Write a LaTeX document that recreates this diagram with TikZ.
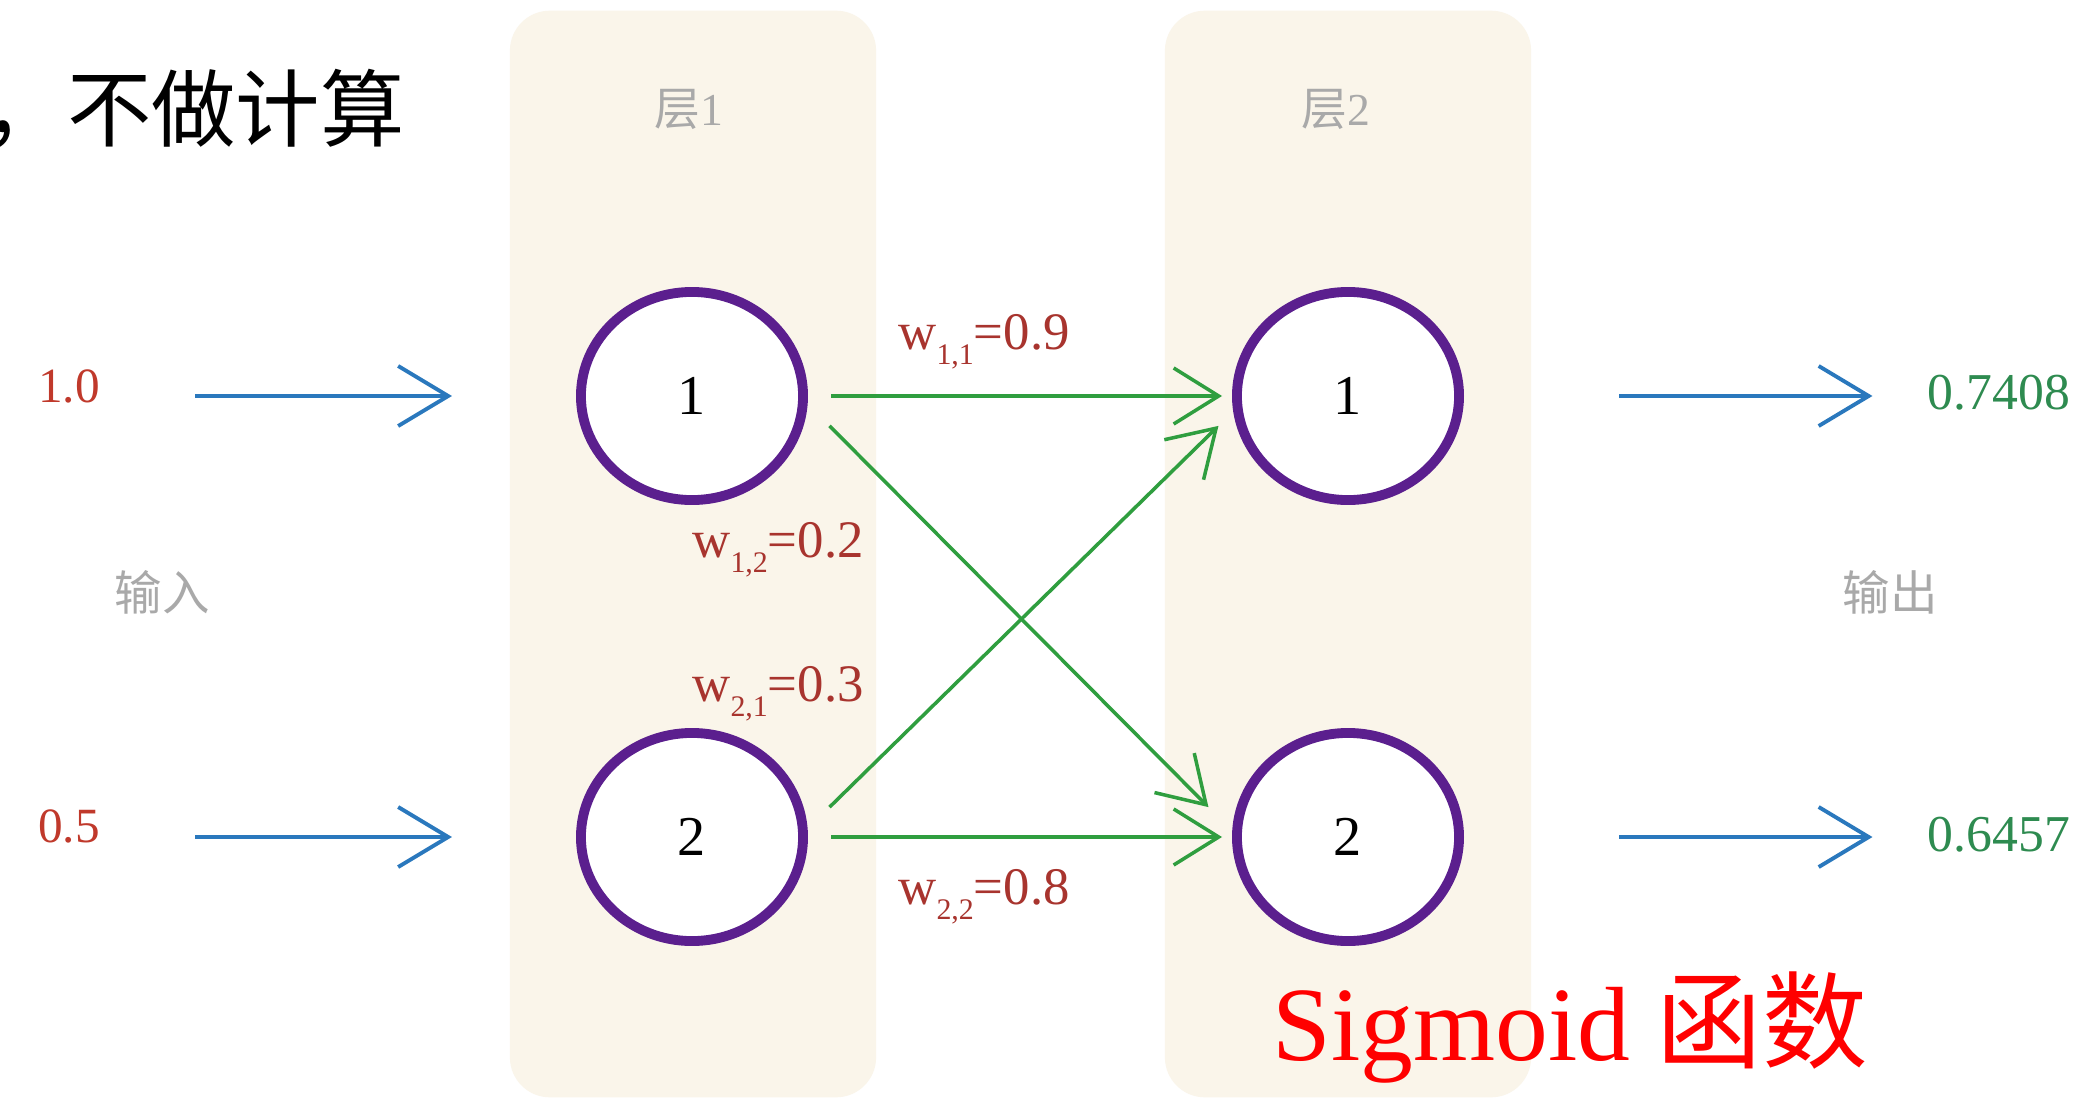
\documentclass[tikz,border=0pt]{standalone}
\usepackage{fontspec}
\setmainfont{Liberation Serif}
\newfontfamily\cjk{Noto Sans CJK SC}
\usetikzlibrary{positioning, arrows.meta, shapes.geometric}
\definecolor{panelbg}{HTML}{FAF5EA}
\definecolor{ringcol}{HTML}{5B1F8E}
\definecolor{edgecol}{HTML}{2F9E3F}
\definecolor{arrcol}{HTML}{2A78BD}
\definecolor{incol}{HTML}{C0392B}
\definecolor{wcol}{HTML}{A8342E}
\definecolor{outcol}{HTML}{2E8B50}
\definecolor{softgray}{HTML}{A9A9A9}
\newcommand{\wlab}[2]{w\raisebox{-0.6ex}{\fontsize{8.5}{9}\selectfont #1}=#2}

\begin{document}
\begin{tikzpicture}[x=0.01cm, y=-0.01cm,
	panel/.style={fill=panelbg, rounded corners=4mm, minimum width=3.66cm, minimum height=10.86cm, inner sep=0pt},
	neuron/.style={ellipse, draw=ringcol, line width=2.8pt, fill=white, minimum width=2.22cm, minimum height=2.08cm, font=\fontsize{16}{18}\selectfont},
	synapse/.style={draw=edgecol, line width=1pt, -{Straight Barb[length=4.5mm, width=5.6mm]}},
	signal/.style={draw=arrcol, line width=1.1pt, -{Straight Barb[length=5mm, width=6mm]}},
	soft/.style={text=softgray, font=\fontsize{13}{16}\selectfont},
	inlab/.style={text=incol, font=\fontsize{14}{17}\selectfont},
	outlab/.style={text=outcol, font=\fontsize{14.7}{17}\selectfont},
	wlab/.style={text=wcol, font=\fontsize{15}{18}\selectfont}]
	\fill[white] (0,0) rectangle (2078,1100);
	\useasboundingbox (0,0) rectangle (2078,1100);
	\node[panel] (p1) at (693,554) {};
	\node[panel] (p2) at (1348,554) {};
	\node[soft] (t1) at (689,109) {{\cjk 层}1};
	\node[soft] (t2) at (1336,109) {{\cjk 层}2};
	\node[neuron] (n11) at (692,396) {1};
	\node[neuron] (n12) at (692,837) {2};
	\node[neuron] (n21) at (1348,396) {1};
	\node[neuron] (n22) at (1348,837) {2};
	\node[inlab] (x1) at (69,386) {1.0};
	\node[inlab] (x2) at (69,826) {0.5};
	\node[soft, font=\cjk\fontsize{13.5}{16}\selectfont] (xin) at (162,592) {输入};
	\node[soft, font=\cjk\fontsize{13.5}{16}\selectfont] (yout) at (1890,592) {输出};
	\node[outlab] (y1) at (1999,393) {0.7408};
	\node[outlab] (y2) at (1999,835) {0.6457};
	\node[wlab] (w11) at (984,342) {\wlab{1,1}{0.9}};
	\node[wlab] (w12) at (778,550) {\wlab{1,2}{0.2}};
	\node[wlab] (w21) at (778,694) {\wlab{2,1}{0.3}};
	\node[wlab] (w22) at (984,897) {\wlab{2,2}{0.8}};
	\draw[signal, shorten <=8.3mm, shorten >=12.4mm] (x1.east |- n11.west) -- (n11.west);
	\draw[signal, shorten <=8.3mm, shorten >=12.4mm] (x2.east |- n12.west) -- (n12.west);
	\draw[signal, shorten <=15.5mm, shorten >=4.3mm] (n21.east) -- (n21.east -| y1.west);
	\draw[signal, shorten <=15.5mm, shorten >=4.3mm] (n22.east) -- (n22.east -| y2.west);
	\draw[synapse] ([xshift=2.3mm]n11.east) -- ([xshift=-1mm]n21.west);
	\draw[synapse] ([xshift=2.6mm]n11.-15) -- ([xshift=-2.8mm]n22.165);
	\draw[synapse] ([xshift=2.6mm]n12.15) -- ([xshift=-1.8mm]n21.-165);
	\draw[synapse] ([xshift=2.3mm]n12.east) -- ([xshift=-1mm]n22.west);
	\node[anchor=west, inner sep=0pt, font=\cjk\fontsize{24}{28}\selectfont] (note) at (-18,109) {，不做计算};
	\node[anchor=base west, inner sep=0pt, text=red, font=\fontsize{30}{36}\selectfont] (sig) at (1272,1060) {Sigmoid {\cjk 函数}};
\end{tikzpicture}
\end{document}
